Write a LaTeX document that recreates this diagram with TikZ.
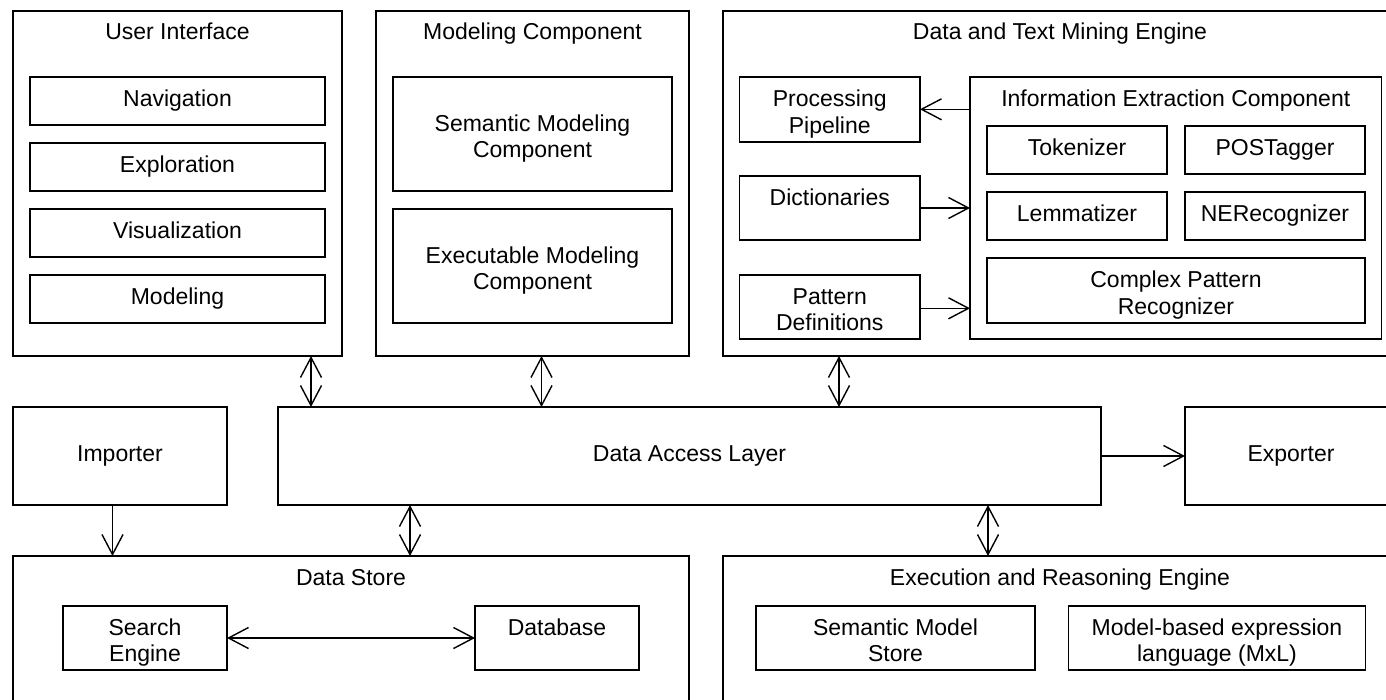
\documentclass[tikz,border=0pt]{standalone}
\usepackage{fontspec}
\setmainfont{Liberation Sans}
\usetikzlibrary{arrows.meta}
\newcommand\topsv{\rule{0pt}{14.5pt}}
\tikzset{
  box/.style={draw=black, line width=0.7pt, rectangle, inner sep=0pt, outer sep=0pt, align=center, font=\fontsize{11.5}{13.2}\selectfont},
  sz/.style 2 args={minimum width=#1*0.5pt, minimum height=#2*0.5pt},
  ttl/.style={inner sep=0pt, anchor=base, font=\fontsize{11.5}{13.2}\selectfont},
  conn/.style={line width=0.7pt},
  arr/.style={conn, -{Straight Barb[length=10pt,width=10.5pt]}},
  dbl/.style={conn, {Straight Barb[length=10pt,width=10.5pt]}-{Straight Barb[length=10pt,width=10.5pt]}}
}
\begin{document}
\begin{tikzpicture}[x=0.5pt, y=-0.5pt]
\useasboundingbox (0,0) rectangle (1386,700);
\fill[white] (0,0) rectangle (1386,700);
\clip (0,0) rectangle (1386,700);

% containers top
\node[box, sz={329}{345}] (ui) at (177.5,183.5) {};
\node[ttl] (uiT) at (177.5,40) {User Interface};
\node[box, sz={313}{345}] (mc) at (532.5,183.5) {};
\node[ttl] (mcT) at (532.5,40) {Modeling Component};
\node[box, sz={674}{345}] (dtm) at (1060,183.5) {};
\node[ttl] (dtmT) at (1060,40) {Data and Text Mining Engine};

% UI inner
\node[box, sz={295}{48}] (nav) at (177.5,101) {\strut Navigation};
\node[box, sz={295}{48}] (expl) at (177.5,167) {\strut Exploration};
\node[box, sz={295}{48}] (vis) at (177.5,233) {\strut Visualization};
\node[box, sz={295}{48}] (mod) at (177.5,299) {\strut Modeling};

% MC inner
\node[box, sz={279}{114}] (smc) at (532.5,134) {\topsv Semantic Modeling\\Component\strut};
\node[box, sz={279}{114}] (emc) at (532.5,266) {\topsv Executable Modeling\\Component\strut};

% DTM inner
\node[box, sz={180.5}{65}] (pp) at (829.75,109.5) {\topsv Processing\\Pipeline\strut};
\node[box, sz={180.5}{64}] (dict) at (829.75,208) {\topsv Dictionaries\\\strut};
\node[box, sz={180.5}{64}] (pat) at (829.75,307) {\topsv Pattern\\Definitions\strut};
\node[box, sz={411.5}{262}] (iec) at (1175.75,208) {};
\node[ttl] (iecT) at (1175.75,107) {Information Extraction Component};
\node[box, sz={180}{48}] (tok) at (1077,150) {\strut Tokenizer};
\node[box, sz={180}{48}] (pos) at (1275,150) {\strut POSTagger};
\node[box, sz={180}{48}] (lem) at (1077,216) {\strut Lemmatizer};
\node[box, sz={180}{48}] (ner) at (1275,216) {\strut NERecognizer};
\node[box, sz={378}{65}] (cpr) at (1176,290.5) {\topsv Complex Pattern\\Recognizer\strut};

% middle row
\node[box, sz={214}{98}] (imp) at (120,456) {\strut Importer};
\node[box, sz={823}{98}] (dal) at (689.5,456) {\strut Data Access Layer};
\node[box, sz={212}{98}] (exp) at (1291,456) {\strut Exporter};

% bottom containers
\node[box, sz={676}{204}] (ds) at (351,658) {};
\node[ttl] (dsT) at (351,585) {Data Store};
\node[box, sz={674}{204}] (ere) at (1060,658) {};
\node[ttl] (ereT) at (1060,585) {Execution and Reasoning Engine};
\node[box, sz={164}{64}] (se) at (145,638) {\topsv Search\\Engine\strut};
\node[box, sz={164}{64}] (db) at (557,638) {\topsv Database\\\strut};
\node[box, sz={279}{64}] (sms) at (895.5,638) {\topsv Semantic Model\\Store\strut};
\node[box, sz={296.5}{64}] (mxl) at (1217,638) {\topsv Model-based expression\\language (MxL)\strut};

% connector x positions
\coordinate (cUI) at (311,0);
\coordinate (cMC) at (541.5,0);
\coordinate (cDTM) at (839,0);
\coordinate (cDS) at (410,0);
\coordinate (cERE) at (988,0);
\coordinate (cIMP) at (112.5,0);
\coordinate (yPP) at (0,109.3);
\coordinate (yPAT) at (0,308.3);

% connectors
\draw[dbl] (ui.south -| cUI) -- (dal.north -| cUI);
\draw[dbl] (mc.south -| cMC) -- (dal.north -| cMC);
\draw[dbl] (dtm.south -| cDTM) -- (dal.north -| cDTM);
\draw[dbl] (dal.south -| cDS) -- (ds.north -| cDS);
\draw[dbl] (dal.south -| cERE) -- (ere.north -| cERE);
\draw[arr] (imp.south -| cIMP) -- (ds.north -| cIMP);
\draw[arr] (dal.east) -- (exp.west);
\draw[arr] (iec.west |- yPP) -- (pp.east |- yPP);
\draw[arr] (dict.east) -- (iec.west |- dict.east);
\draw[arr] (pat.east |- yPAT) -- (iec.west |- yPAT);
\draw[dbl] (se.east) -- (db.west);
\end{tikzpicture}
\end{document}
